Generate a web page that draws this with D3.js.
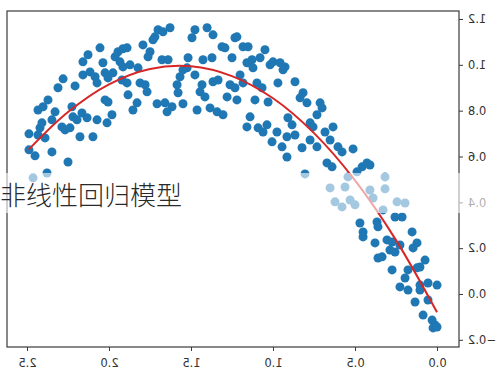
<!DOCTYPE html>
<html>
<head>
<meta charset="utf-8">
<script src="https://cdn.jsdelivr.net/npm/d3@7"></script>
<style>
  body { margin: 0; background: #fff; }
  svg { display: block; }
</style>
</head>
<body>
<svg id="chart" width="500" height="374"></svg>
<script>
// scatter samples
const ptsX = [2.488,2.451,2.488,2.433,2.421,2.409,2.433,2.402,2.372,2.390,2.348,2.329,2.348,2.250,2.378,2.463,2.287,2.268,2.238,2.226,
  2.220,2.195,2.177,2.165,2.134,2.098,2.073,2.012,1.982,2.024,2.006,2.311,2.280,2.207,2.159,2.159,2.128,2.055,2.116,2.085,
  2.073,2.037,2.024,2.006,1.976,1.963,1.945,1.915,1.933,1.915,1.921,
  1.701,1.671,1.628,1.720,1.732,1.793,1.750,1.762,1.890,1.872,1.823,1.677,1.640,1.811,1.780,1.768,1.890,1.884,1.829,1.854,
  1.707,1.659,1.616,1.646,1.549,1.585,1.567,1.549,1.524,1.518,1.476,1.579,1.476,1.494,1.402,1.366,1.427,1.372,1.433,1.445,
  1.415,1.366,1.335,1.463,1.384,1.341,1.305,1.311,1.293,1.232,1.250,1.262,1.232,1.280,1.220,
  1.220,1.183,1.152,1.049,1.079,1.128,1.159,1.122,1.018,1.000,0.957,0.927,0.939,1.201,1.183,1.098,1.067,0.970,0.866,
  1.110,1.030,0.817,0.835,0.793,0.713,0.701,0.732,1.140,1.159,1.091,1.037,1.061,0.976,0.909,0.884,0.915,0.866,1.006,0.945,
  0.915,0.823,0.774,0.756,0.774,0.732,0.683,0.634,0.652,0.604,0.579,0.671,0.640,0.805,
  0.512,0.457,0.427,0.409,0.488,0.317,0.543,0.561,0.652,0.409,0.390,0.317,0.622,0.579,0.530,0.500,0.329,0.244,0.195,0.256,0.213,
  0.470,0.451,0.451,0.366,0.360,0.152,0.378,0.305,0.274,0.226,0.122,0.146,0.287,0.256,0.360,0.335,0.073,0.104,0.122,0.177,
  0.274,0.195,0.226,0.177,0.104,0.055,0.000,0.104,0.134,0.055,0.085,0.030,0.012,0.024,0.000];
const ptsY = [0.629,0.603,0.699,0.694,0.725,0.747,0.803,0.817,0.847,0.681,0.760,0.795,0.620,0.576,0.528,0.507,0.729,0.716,0.725,0.817,
  0.773,0.760,0.686,0.790,0.769,0.686,0.760,0.747,0.782,0.847,0.838,0.900,0.939,0.908,0.956,1.013,1.044,1.074,0.969,0.948,
  0.921,1.009,0.965,0.943,0.965,1.035,1.057,1.070,1.013,0.991,0.934,
  1.153,1.144,1.162,1.122,1.109,1.087,1.057,1.035,1.074,1.000,0.987,1.022,1.022,0.921,0.913,0.882,0.921,0.869,0.834,0.803,
  0.830,0.834,0.817,0.795,0.830,0.913,0.948,0.978,0.987,1.031,0.956,0.878,1.153,1.118,1.162,1.131,1.022,1.031,0.913,0.882,
  0.860,0.926,0.934,0.803,0.812,0.795,0.782,1.079,1.074,1.118,1.031,0.913,0.900,0.860,0.847,
  1.122,1.079,1.079,1.066,1.031,1.022,1.009,0.987,1.000,1.013,1.009,0.991,0.978,0.956,0.921,0.921,0.900,0.921,0.926,
  0.847,0.838,0.878,0.856,0.834,0.834,0.812,0.782,0.773,0.729,0.725,0.738,0.707,0.707,0.769,0.738,0.686,0.694,0.664,0.642,
  0.598,0.638,0.747,0.729,0.672,0.642,0.707,0.729,0.672,0.642,0.620,0.572,0.555,0.524,
  0.633,0.555,0.572,0.563,0.533,0.511,0.511,0.467,0.463,0.454,0.419,0.459,0.402,0.380,0.410,0.389,0.367,0.402,0.397,0.336,0.336,
  0.310,0.271,0.249,0.314,0.293,0.271,0.223,0.236,0.227,0.214,0.223,0.201,0.192,0.183,0.157,0.162,0.148,0.118,0.114,0.105,
  0.105,0.070,0.031,0.017,0.039,0.048,0.039,0.017,-0.035,-0.026,-0.092,-0.114,-0.135,-0.148,-0.144];

// fitted regression curve
const curveX = [0, 0.25, 0.5, 0.75, 1.0, 1.25, 1.5, 1.75, 2.0, 2.25, 2.49];
const curveY = [-0.08, 0.235, 0.496, 0.702, 0.854, 0.951, 0.994, 0.982, 0.915, 0.794, 0.63];

const xTicks = [0, 0.5, 1.0, 1.5, 2.0, 2.5];
const yTicks = [-0.2, 0, 0.2, 0.4, 0.6, 0.8, 1.0, 1.2];
const title = "非线性回归模型";

const svg = d3.select("#chart");
const plotL = 7, plotR = 459, plotT = 11, plotB = 347;

// the picture is mirrored: x runs from 2.6 on the left down to 0 on the right
const x = d3.scaleLinear().domain([2.622, -0.134]).range([plotL, plotR]);
const y = d3.scaleLinear().domain([-0.2313, 1.2349]).range([plotB, plotT]);

svg.append("rect").attr("width", 500).attr("height", 374).attr("fill", "#fff");

// points
svg.append("g")
  .selectAll("circle")
  .data(ptsX.map((d, i) => [d, ptsY[i]]))
  .join("circle")
  .attr("cx", d => x(d[0]))
  .attr("cy", d => y(d[1]))
  .attr("r", 4.5)
  .attr("fill", "#1f77b4");

// regression line
const line = d3.line()
  .x((d, i) => x(curveX[i]))
  .y((d, i) => y(curveY[i]))
  .curve(d3.curveCatmullRom);

svg.append("path")
  .attr("d", line(curveX))
  .attr("fill", "none")
  .attr("stroke", "#d62728")
  .attr("stroke-width", 2);

// frame
svg.append("rect")
  .attr("x", plotL).attr("y", plotT)
  .attr("width", plotR - plotL).attr("height", plotB - plotT)
  .attr("fill", "none")
  .attr("stroke", "#3a3a3a")
  .attr("stroke-width", 1.2);

const fmt = d3.format(".1f");

// y axis on the right, labels mirrored
const yAxis = svg.append("g")
  .attr("transform", `translate(${plotR},0)`)
  .call(d3.axisRight(y).tickValues(yTicks).tickFormat(fmt).tickSize(4));
yAxis.select(".domain").remove();
yAxis.selectAll("line").attr("stroke", "#3a3a3a");
yAxis.selectAll("text")
  .attr("x", -9)
  .attr("text-anchor", "end")
  .attr("transform", "scale(-1,1)")
  .style("font-family", "DejaVu Sans, sans-serif")
  .style("font-size", "11.5px")
  .attr("fill", "#333");

// x axis, labels mirrored
const xAxis = svg.append("g")
  .attr("transform", `translate(0,${plotB})`)
  .call(d3.axisBottom(x).tickValues(xTicks).tickFormat(fmt).tickSize(4));
xAxis.select(".domain").remove();
xAxis.selectAll("line").attr("stroke", "#3a3a3a");
xAxis.selectAll("text")
  .attr("y", 12)
  .attr("transform", "scale(-1,1)")
  .style("font-family", "DejaVu Sans, sans-serif")
  .style("font-size", "11.5px")
  .attr("fill", "#333");

// translucent caption band
svg.append("rect")
  .attr("x", 0).attr("y", 173)
  .attr("width", 500).attr("height", 40)
  .attr("fill", "#fff")
  .attr("opacity", 0.6);

svg.append("text")
  .attr("x", 0)
  .attr("y", 205)
  .text(title)
  .style("font-family", "'Noto Sans CJK SC', sans-serif")
  .style("font-size", "26px")
  .style("font-weight", 300)
  .attr("fill", "#2a2a2a");
</script>
</body>
</html>
